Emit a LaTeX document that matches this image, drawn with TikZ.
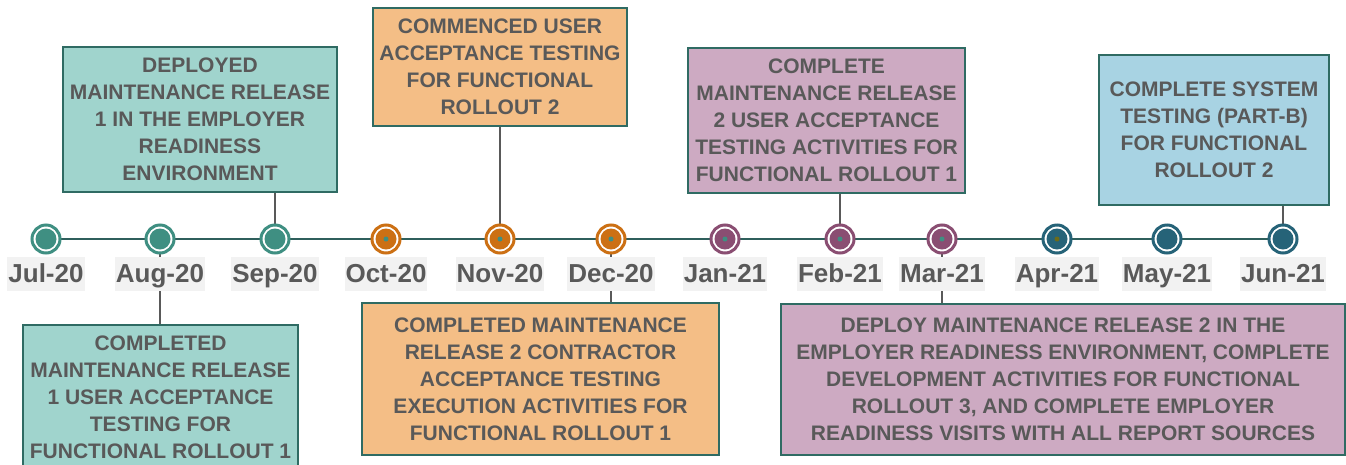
\documentclass[tikz,border=0pt]{standalone}
\usepackage{fontspec}
\setmainfont{Liberation Sans}
\usetikzlibrary{backgrounds}
\definecolor{txtc}{HTML}{595959}
\definecolor{bordc}{HTML}{2F6B63}
\definecolor{linec}{HTML}{2F5F5C}
\definecolor{tealf}{HTML}{A0D4CD}
\definecolor{orangef}{HTML}{F4BE86}
\definecolor{purplef}{HTML}{CDAAC2}
\definecolor{bluef}{HTML}{A8D3E3}
\definecolor{mteal}{HTML}{3F8F82}
\definecolor{morange}{HTML}{CC7014}
\definecolor{mpurple}{HTML}{8A4E72}
\definecolor{mblue}{HTML}{266378}
\definecolor{dotolive}{HTML}{6B6B1A}
\definecolor{lblbg}{HTML}{F2F2F2}
\begin{document}
\begin{tikzpicture}[x=1pt,y=-1pt,
  evbox/.style={draw=bordc, line width=2pt, text=txtc, align=center, inner sep=0pt,
    font=\fontsize{21}{27}\selectfont\bfseries},
  mk/.style={circle, draw=#1, line width=3pt, fill=white, minimum size=28pt, inner sep=0pt,
    path picture={\fill[#1] (path picture bounding box.center) circle (10.5pt);}},
  lbl/.style={fill=lblbg, text=txtc, font=\fontsize{26}{30}\selectfont\bfseries,
    inner xsep=1pt, inner ysep=5pt, text height=20pt, text depth=4pt},
  tl/.style={draw=linec, line width=2.5pt},
  conn/.style={draw=txtc, line width=2pt}]
\useasboundingbox (0,0) rectangle (1346,464);
\clip (0,0) rectangle (1346,464);

% markers
\node[mk=mteal] (m1) at (46,239) {};
\node[mk=mteal] (m2) at (160,239) {};
\node[mk=mteal] (m3) at (275,239) {};
\node[mk=morange] (m4) at (386,239) {};
\node[mk=morange] (m5) at (500,239) {};
\node[mk=morange] (m6) at (611,239) {};
\node[mk=mpurple] (m7) at (725,239) {};
\node[mk=mpurple] (m8) at (840,239) {};
\node[mk=mpurple] (m9) at (942,239) {};
\node[mk=mblue] (m10) at (1057,239) {};
\node[mk=mblue] (m11) at (1167,239) {};
\node[mk=mblue] (m12) at (1283,239) {};
\foreach \m in {m4,m5,m6,m7,m8,m9} \fill[mteal] (\m.center) circle (2.5pt);
\fill[dotolive] (m10.center) circle (2.5pt);

% month labels
\node[lbl] (l1) at (46,274) {Jul-20};
\node[lbl] (l2) at (160,274) {Aug-20};
\node[lbl] (l3) at (275,274) {Sep-20};
\node[lbl] (l4) at (386,274) {Oct-20};
\node[lbl] (l5) at (500,274) {Nov-20};
\node[lbl] (l6) at (611,274) {Dec-20};
\node[lbl] (l7) at (725,274) {Jan-21};
\node[lbl] (l8) at (840,274) {Feb-21};
\node[lbl] (l9) at (942,274) {Mar-21};
\node[lbl] (l10) at (1057,274) {Apr-21};
\node[lbl] (l11) at (1167,274) {May-21};
\node[lbl] (l12) at (1283,274) {Jun-21};

% event boxes
\node[evbox, fill=tealf, minimum width=274pt, minimum height=145pt] (A) at (200,119.5)
  {DEPLOYED\\MAINTENANCE RELEASE\\1 IN THE EMPLOYER\\READINESS\\ENVIRONMENT};
\node[evbox, fill=orangef, minimum width=254pt, minimum height=118pt] (B) at (500,67)
  {COMMENCED USER\\ACCEPTANCE TESTING\\FOR FUNCTIONAL\\ROLLOUT 2};
\node[evbox, fill=purplef, minimum width=277pt, minimum height=145pt] (C) at (826.5,120.5)
  {COMPLETE\\MAINTENANCE RELEASE\\2 USER ACCEPTANCE\\TESTING ACTIVITIES FOR\\FUNCTIONAL ROLLOUT 1};
\node[evbox, fill=bluef, minimum width=230pt, minimum height=150pt] (D) at (1214,130)
  {COMPLETE SYSTEM\\TESTING (PART-B)\\FOR FUNCTIONAL\\ROLLOUT 2};
\node[evbox, fill=tealf, minimum width=275pt, minimum height=145pt] (E) at (160.5,397.5)
  {COMPLETED\\MAINTENANCE RELEASE\\1 USER ACCEPTANCE\\TESTING FOR\\FUNCTIONAL ROLLOUT 1};
\node[evbox, fill=orangef, minimum width=357pt, minimum height=152pt] (F) at (540.5,379)
  {COMPLETED MAINTENANCE\\RELEASE 2 CONTRACTOR\\ACCEPTANCE TESTING\\EXECUTION ACTIVITIES FOR\\FUNCTIONAL ROLLOUT 1};
\node[evbox, fill=purplef, minimum width=564pt, minimum height=151pt] (G) at (1063,379.5)
  {DEPLOY MAINTENANCE RELEASE 2 IN THE\\EMPLOYER READINESS ENVIRONMENT, COMPLETE\\DEVELOPMENT ACTIVITIES FOR FUNCTIONAL\\ROLLOUT 3, AND COMPLETE EMPLOYER\\READINESS VISITS WITH ALL REPORT SOURCES};

\begin{scope}[on background layer]
  \fill[white] (0,0) rectangle (1346,464);
  \draw[tl] (m1.center) -- (m12.center);
  \draw[conn] (m3.center) -- (m3.center |- A.south);
  \draw[conn] (m5.center) -- (m5.center |- B.south);
  \draw[conn] (m8.center) -- (m8.center |- C.south);
  \draw[conn] (m12.center) -- (m12.center |- D.south);
  \draw[conn] (m2.center) -- (m2.center |- E.north);
  \draw[conn] (m6.center) -- (m6.center |- F.north);
  \draw[conn] (m9.center) -- (m9.center |- G.north);
\end{scope}
\end{tikzpicture}
\end{document}
